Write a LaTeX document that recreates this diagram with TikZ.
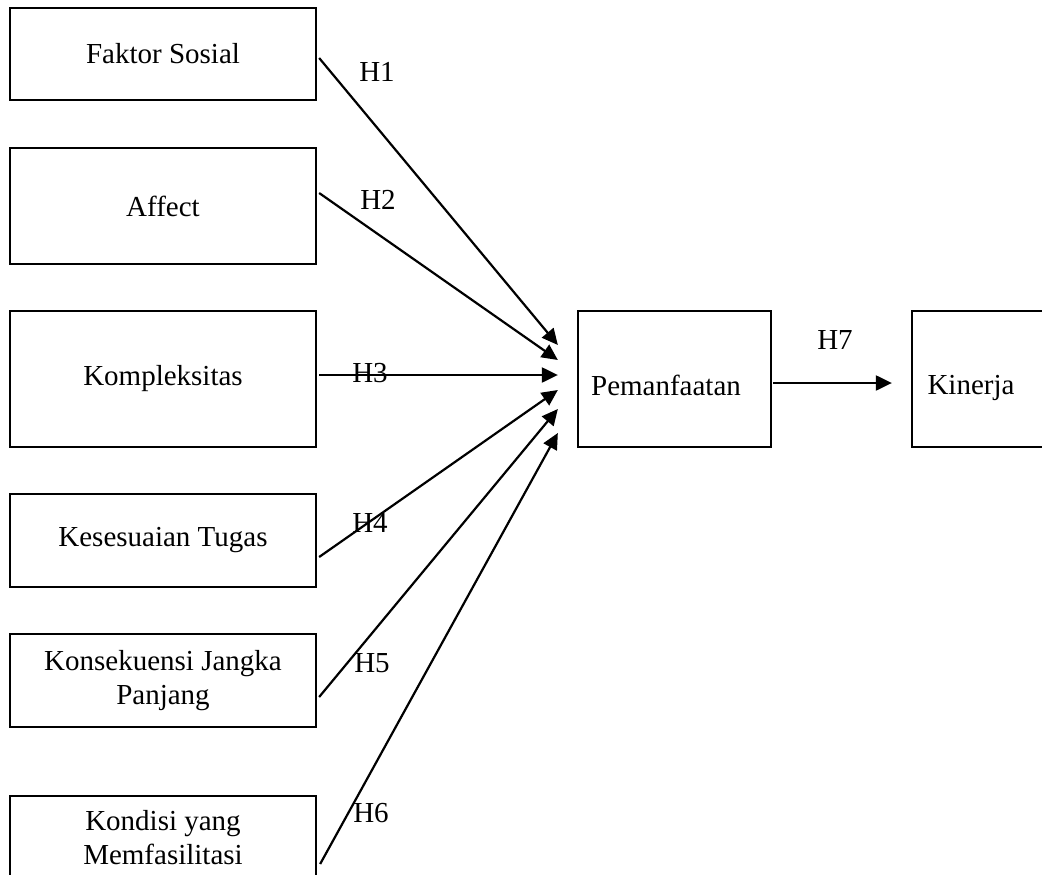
\documentclass[tikz,border=0pt]{standalone}
\usepackage{fontspec}
\setmainfont{Liberation Serif}
\usetikzlibrary{arrows.meta}
\begin{document}
\begin{tikzpicture}[x=1pt,y=-1pt,
  txt/.style={font=\fontsize{29}{34}\selectfont},
  box/.style={draw=black,line width=2.3pt,inner sep=0pt,align=center,txt},
  leftbox/.style={box,minimum width=306pt},
  conn/.style={draw=black,line width=2.2pt,-{Triangle[length=16pt,width=15pt]}},
  lbl/.style={inner sep=0pt,txt}]
\clip (0,0) rectangle (1042,875);
\fill[white] (0,0) rectangle (1042,875);
% left boxes
\node[leftbox,minimum height=92pt]  (fs) at (163,54)    {Faktor Sosial};
\node[leftbox,minimum height=116pt] (af) at (163,206)   {Affect};
\node[leftbox,minimum height=136pt] (ko) at (163,379)   {Kompleksitas};
\node[leftbox,minimum height=93pt]  (ke) at (163,540.5) {Kesesuaian Tugas};
\node[leftbox,minimum height=93pt]  (kj) at (163,680.5) {Konsekuensi Jangka\\Panjang};
\node[leftbox,minimum height=84pt]  (kd) at (163,838)   {Kondisi yang\\Memfasilitasi};
% right boxes
\node[box,minimum width=193pt,minimum height=136pt] (pem) at (674.5,379) {};
\node[lbl] (pemt) at (666,385) {Pemanfaatan};
\node[box,minimum width=148pt,minimum height=136pt] (kin) at (986,379) {};
\node[lbl] (kint) at (971,388) {Kinerja};
% labels
\node[lbl] (h1) at (377,72)  {H1};
\node[lbl] (h2) at (378,200) {H2};
\node[lbl] (h3) at (370,373) {H3};
\node[lbl] (h4) at (370,523) {H4};
\node[lbl] (h5) at (372,663) {H5};
\node[lbl] (h6) at (371,813) {H6};
\node[lbl] (h7) at (835,340) {H7};
% connectors
\draw[conn] ([shift={(2,4)}]fs.east)    -- ([shift={(-19,-34)}]pem.west);
\draw[conn] ([shift={(2,-13)}]af.east)  -- ([shift={(-19,-19)}]pem.west);
\draw[conn] ([shift={(2,-4)}]ko.east)   -- ([shift={(-19,-4)}]pem.west);
\draw[conn] ([shift={(2,16.5)}]ke.east) -- ([shift={(-19,11)}]pem.west);
\draw[conn] ([shift={(2,16.5)}]kj.east) -- ([shift={(-19,30)}]pem.west);
\draw[conn] ([shift={(3,26)}]kd.east)   -- ([shift={(-19,54)}]pem.west);
\draw[conn] ([shift={(1,4)}]pem.east)   -- ([shift={(-19,4)}]kin.west);
\end{tikzpicture}
\end{document}
